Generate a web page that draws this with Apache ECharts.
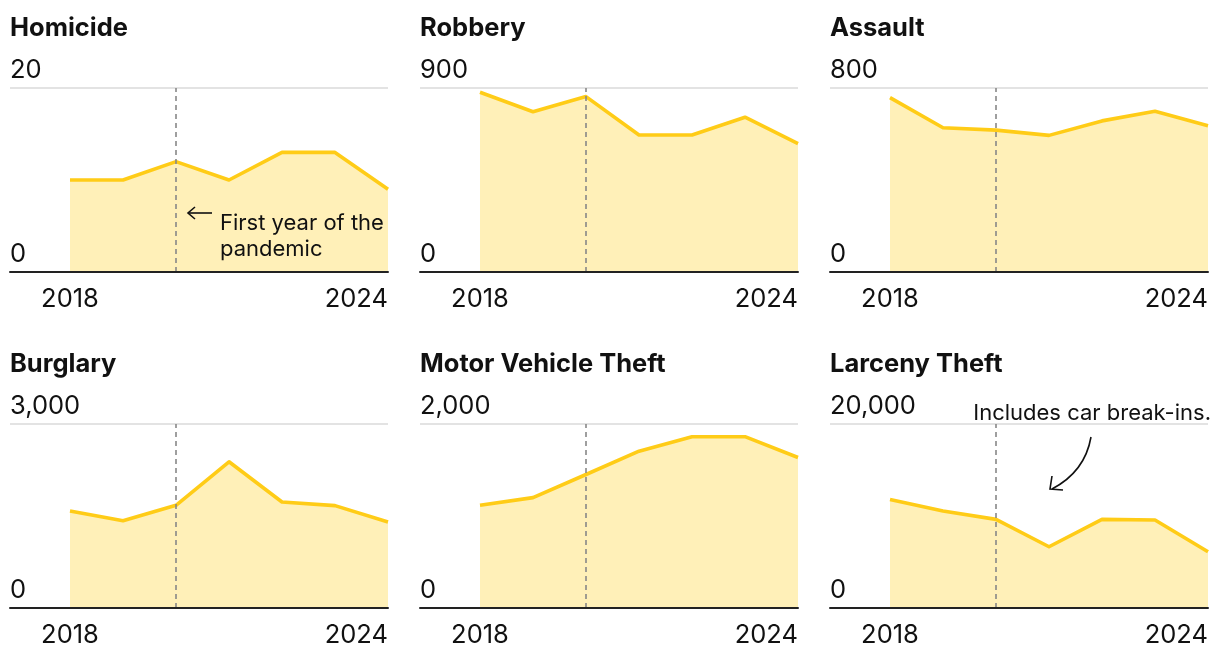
<!DOCTYPE html>
<html>
<head>
<meta charset="utf-8">
<script src="https://cdn.jsdelivr.net/npm/echarts@6/dist/echarts.min.js"></script>
<style>
html,body{margin:0;padding:0;background:#fff;}
#chart{width:1220px;height:662px;}
</style>
</head>
<body>
<div id="chart"></div>
<script>
const years = [2018, 2019, 2020, 2021, 2022, 2023, 2024];
const titles = ['Homicide', 'Robbery', 'Assault', 'Burglary', 'Motor Vehicle Theft', 'Larceny Theft'];
const homicide = [10, 10, 12, 10, 13, 13, 9];
const robbery = [879, 784, 858, 670, 670, 757, 628];
const assault = [758, 627, 617, 594, 657, 699, 636];
const burglary = [1582, 1424, 1675, 2384, 1729, 1669, 1402];
const motorVehicleTheft = [1116, 1200, 1451, 1705, 1862, 1862, 1636];
const larcenyTheft = [11782, 10545, 9636, 6655, 9636, 9564, 6109];
const yMax = [20, 900, 800, 3000, 2000, 20000];
const pandemicYear = 2020;
const xTickLabels = [2018, 2024];

const seriesData = [homicide, robbery, assault, burglary, motorVehicleTheft, larcenyTheft];

const FONT = 'Inter, "Noto Sans", sans-serif';
const colLeft = [10, 420, 830];
const rowTop = [88, 424];
const gridW = 378, gridH = 184;
const xMin = 2018 - 60 / 53;

const chart = echarts.init(document.getElementById('chart'));

const grids = [], xAxes = [], yAxes = [], series = [], titleArr = [];
seriesData.forEach((data, i) => {
  const c = i % 3, r = Math.floor(i / 3);
  grids.push({ left: colLeft[c], top: rowTop[r], width: gridW, height: gridH, containLabel: false });
  titleArr.push({
    text: titles[i], left: colLeft[c], top: rowTop[r] - 73,
    textStyle: { fontFamily: FONT, fontWeight: 'bold', fontSize: 25.5, color: '#111' },
    padding: 0
  });
  xAxes.push({
    type: 'value', gridIndex: i, min: xMin, max: 2024, z: 5,
    axisLine: { show: true, onZero: false, lineStyle: { color: '#222', width: 2 } },
    axisTick: { show: false },
    splitLine: { show: false },
    axisLabel: {
      customValues: xTickLabels,
      alignMaxLabel: 'right',
      fontFamily: FONT, fontSize: 25.5, color: '#111', margin: 14,
      formatter: v => String(v)
    }
  });
  yAxes.push({
    type: 'value', gridIndex: i, min: 0, max: yMax[i], interval: yMax[i],
    axisLine: { show: false }, axisTick: { show: false },
    splitLine: { show: true, lineStyle: { color: '#e3e3e3', width: 2 } },
    axisLabel: {
      inside: true, margin: 0, verticalAlign: 'bottom',
      padding: [0, 0, 5, 0],
      fontFamily: FONT, fontSize: 25.5, color: '#111',
      formatter: v => v.toLocaleString('en-US')
    }
  });
  series.push({
    type: 'line', xAxisIndex: i, yAxisIndex: i,
    data: years.map((y, k) => [y, data[k]]),
    symbol: 'none', silent: true,
    lineStyle: { color: '#FFCC17', width: 3.6, join: 'round' },
    areaStyle: { color: '#FFF0B8', opacity: 1, origin: 'start' },
    z: 2,
    markLine: {
      silent: true, symbol: 'none', label: { show: false },
      lineStyle: { color: '#888', type: [5, 4], width: 1.6 },
      data: [{ xAxis: pandemicYear }],
      z: 5
    }
  });
});

const graphics = [
  { type: 'polyline', shape: { points: [[212, 213], [188, 213]] }, style: { stroke: '#111', lineWidth: 1.6, fill: null }, z: 10 },
  { type: 'polyline', shape: { points: [[195, 207], [188, 213], [195, 219]] }, style: { stroke: '#111', lineWidth: 1.6, fill: null }, z: 10 },
  { type: 'text', left: 220, top: 210, style: { text: 'First year of the\npandemic', font: '22px ' + FONT, fill: '#111', lineHeight: 26 }, z: 10 },
  { type: 'text', right: 9, top: 402, style: { text: 'Includes car break-ins.', font: '22px ' + FONT, fill: '#111' }, z: 10 },
  { type: 'bezierCurve', shape: { x1: 1091, y1: 437, cpx1: 1087, cpy1: 460, cpx2: 1073, cpy2: 478, x2: 1052, y2: 489 }, style: { stroke: '#111', lineWidth: 1.6, fill: null }, z: 10 },
  { type: 'polyline', shape: { points: [[1052, 476], [1050, 489], [1063, 490]] }, style: { stroke: '#111', lineWidth: 1.6, fill: null }, z: 10 }
];

chart.setOption({
  animation: false,
  title: titleArr,
  grid: grids,
  xAxis: xAxes,
  yAxis: yAxes,
  series: series,
  graphic: graphics
});
</script>
</body>
</html>
